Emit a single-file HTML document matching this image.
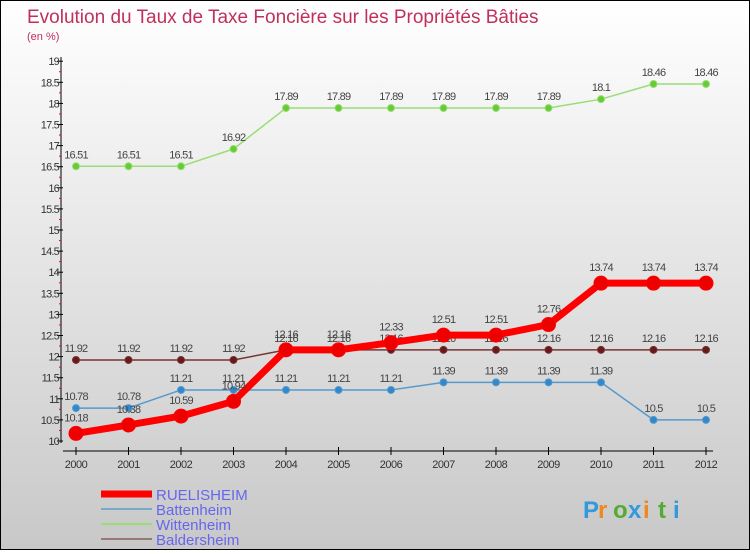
<!DOCTYPE html>
<html><head><meta charset="utf-8"><style>
body{margin:0}
#c{width:748px;height:548px;border:1px solid #000;background:linear-gradient(#fff,#f4f4f4 20%,#c8c8c8);position:relative;font-family:"Liberation Sans",sans-serif}
</style></head><body>
<div id="c">
<svg id="s" width="748" height="548"></svg>
</div>
<script>
const years=["2000","2001","2002","2003","2004","2005","2006","2007","2008","2009","2010","2011","2012"];
const ruelisheim=[10.18,10.38,10.59,10.94,12.16,12.16,12.33,12.51,12.51,12.76,13.74,13.74,13.74];
const battenheim=[10.78,10.78,11.21,11.21,11.21,11.21,11.21,11.39,11.39,11.39,11.39,10.5,10.5];
const wittenheim=[16.51,16.51,16.51,16.92,17.89,17.89,17.89,17.89,17.89,17.89,18.1,18.46,18.46];
const baldersheim=[11.92,11.92,11.92,11.92,12.16,12.16,12.16,12.16,12.16,12.16,12.16,12.16,12.16];
const yTicks=[10,10.5,11,11.5,12,12.5,13,13.5,14,14.5,15,15.5,16,16.5,17,17.5,18,18.5,19];
const s=document.getElementById('s');const NS='http://www.w3.org/2000/svg';
function X(i){return 75+i*52.5}
function Y(v){return 440-(v-10)*42.2}
function add(t,a,txt,name){const e=document.createElementNS(NS,t);for(const k in a)e.setAttribute(k,a[k]);if(txt!=null)e.textContent=txt;


s.appendChild(e);return e}
add('text',{x:26,y:22,'font-size':19,fill:'#c0305a'},'Evolution du Taux de Taxe Foncière sur les Propriétés Bâties','title');
add('text',{x:26,y:39,'font-size':11,fill:'#c0305a'},'(en %)','subtitle');
add('line',{x1:60,y1:56,x2:60,y2:442,stroke:'#000'},null,'y-axis');
add('line',{x1:62,y1:450,x2:712,y2:450,stroke:'#000'},null,'x-axis');
yTicks.forEach(v=>{add('line',{x1:56,x2:62,y1:Y(v),y2:Y(v),stroke:'#000'},null,'y-tick');
add('text',{x:58,y:Y(v)+4,'font-size':11,fill:'#333','text-anchor':'end','letter-spacing':'-0.8'},String(v),'y-tick-label');
if(v<19)add('line',{x1:58,x2:60,y1:Y(v+0.25),y2:Y(v+0.25),stroke:'#f00'},null,'y-minor-tick');});
years.forEach((y,i)=>{add('line',{x1:X(i),x2:X(i),y1:446,y2:454,stroke:'#000'},null,'x-tick');
add('text',{x:X(i),y:467,'font-size':11,fill:'#333','text-anchor':'middle','letter-spacing':'-0.5'},y,'x-tick-label');});
function series(d,col,w,r,dot,name,dy){
add('polyline',{points:d.map((v,i)=>X(i)+','+Y(v)).join(' '),fill:'none',stroke:col,'stroke-width':w,'stroke-linejoin':'round'},null,name+'-line');
d.forEach((v,i)=>{add('circle',{cx:X(i),cy:Y(v),r:r,fill:dot,stroke:col,'stroke-width':1},null,name+'-point');
add('text',{x:X(i),y:Y(v)-dy,'font-size':11,fill:'#444','text-anchor':'middle','letter-spacing':'-0.8'},String(v),name+'-value');});}
series(wittenheim,'#99dd77',1.5,3.5,'#66cc33','wittenheim',8);
series(baldersheim,'#7a3333',1.5,3.5,'#661a1a','baldersheim',8);
series(battenheim,'#5599cc',1.5,3.5,'#3388cc','battenheim',8);
series(ruelisheim,'#ff0000',7,7,'#ee0000','ruelisheim',12);
const leg=[['RUELISHEIM','#ff0000',7],['Battenheim','#77aacc',2],['Wittenheim','#99dd77',2],['Baldersheim','#997777',2]];
leg.forEach((l,i)=>{const y=493+i*15;add('line',{x1:100,x2:151,y1:y,y2:y,stroke:l[1],'stroke-width':l[2]},null,'legend-swatch');
add('text',{x:155,y:y+6,'font-size':15,fill:'#6666ee'},l[0],'legend-entry');});
const cols=['#3399dd','#ee8822','#55aa33','#3399dd','#ee8822','#55aa33','#3399dd'];
'Proxiti'.split('').forEach((c,i)=>add('text',{x:582+i*15,y:517,'font-size':24,'font-weight':'bold',fill:cols[i]},c,'logo-letter'));
</script>
</body></html>
